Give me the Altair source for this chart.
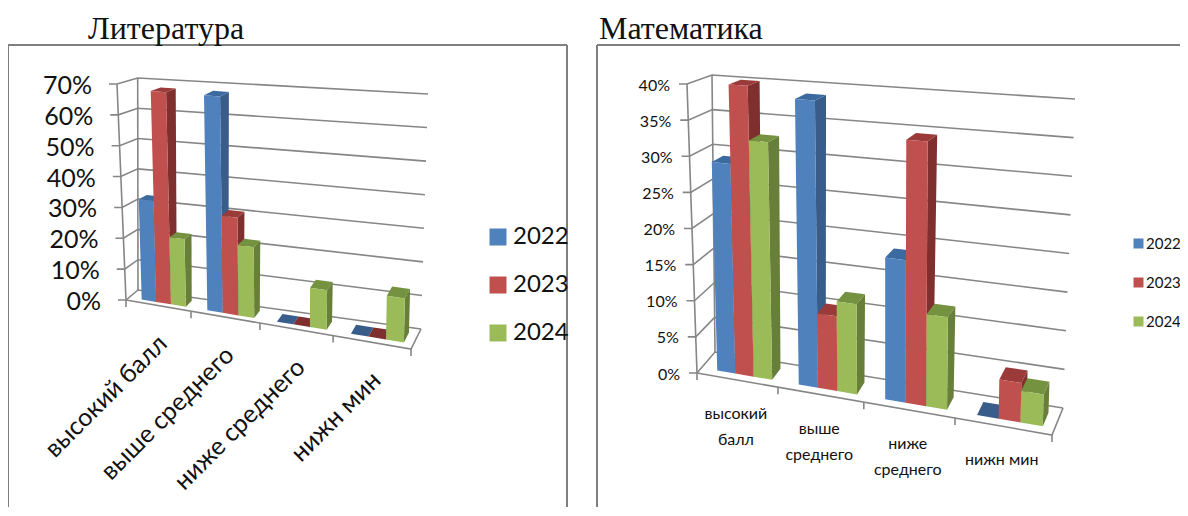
import altair as alt
import pandas as pd

YEARS = ["2022", "2023", "2024"]
CATS_L = ["высокий балл", "выше среднего", "ниже среднего", "нижн мин"]
CATS_M = [["высокий", "балл"], ["выше", "среднего"], ["ниже", "среднего"], ["нижн мин"]]
LIT_2022 = [32.5, 68, 0, 0]
LIT_2023 = [68, 30.5, 0, 0]
LIT_2024 = [21.5, 22, 12, 13]
MAT_2022 = [29, 38.7, 18.7, 0]
MAT_2023 = [40, 10, 34.5, 5]
MAT_2024 = [32.5, 12, 12, 4]
TICKS_L = [0, 10, 20, 30, 40, 50, 60, 70]
TICKS_M = [0, 5, 10, 15, 20, 25, 30, 35, 40]

FRONT = ["#4f81bd", "#c0504d", "#9bbb59"]
SIDE = ["#385d8a", "#7f2f2d", "#687f3a"]
TOP = ["#3b6aa0", "#9a3b39", "#74923f"]
GRID = "#868686"
FRAME = "#7f7f7f"
INK = "#111111"

W = 1172
H = 499
K = 1.128
X_ENC = alt.X("x:Q", axis=None, scale=alt.Scale(domain=[0, W], range=[0, W], nice=False, zero=False))


def panel(corners, vmax, ticks, series, tick_gap, tick_size, tick_dy, legend, frame_x, title, title_x, cat_rows):
    ppp = (corners["fbl"][1] - corners["ftl"][1]) / vmax
    y_enc = alt.Y("y:Q", axis=None, scale=alt.Scale(domain=[0, H / ppp], nice=False, zero=False))

    def data_xy(px, py):
        return px - 8, (H - (py - 8)) / ppp

    def proj(u, v, w):
        t = u / (u + K * (1 - u)) if u > 0 else 0.0
        def lerp(a, b, f):
            return (a[0] + (b[0] - a[0]) * f, a[1] + (b[1] - a[1]) * f)
        bot = lerp(lerp(corners["fbl"], corners["fbr"], t), lerp(corners["bbl"], corners["bbr"], t), v)
        top = lerp(lerp(corners["ftl"], corners["ftr"], t), lerp(corners["btl"], corners["btr"], t), v)
        p = lerp(bot, top, w)
        return data_xy(p[0], p[1])

    rows = []
    n = 0
    for c in range(4):
        for s in range(3):
            val = series[s][c] / vmax
            u0 = (c + 0.2 + s * 0.2267) / 4
            u1 = u0 + 0.2267 / 4
            faces = [
                (SIDE[s], [(u1, .25, 0), (u1, .75, 0), (u1, .75, val), (u1, .25, val)]),
                (TOP[s] if val > 0 else SIDE[s], [(u0, .25, val), (u1, .25, val), (u1, .75, val), (u0, .75, val)]),
                (FRONT[s], [(u0, .25, 0), (u1, .25, 0), (u1, .25, val), (u0, .25, val)]),
            ]
            for col, pts in faces:
                n += 1
                for i, p in enumerate(pts):
                    x, y = proj(*p)
                    rows.append(dict(k=f"{n:03d}", o=i, x=x, y=y, c=col))
    bars = pd.DataFrame(rows)

    lines = []
    ln = 0
    def add(pts):
        nonlocal ln
        ln += 1
        for i, p in enumerate(pts):
            lines.append(dict(k=f"{ln:03d}", o=i, x=p[0], y=p[1]))

    for tv in ticks:
        w = tv / vmax
        fx, fy = proj(0, 0, w)
        add([(fx - 8, fy), (fx, fy), proj(0, 1, w), proj(1, 1, w)])
    add([proj(0, 0, 0), proj(0, 0, 1)])
    add([proj(0, 1, 0), proj(0, 1, 1)])
    add([proj(0, 0, 0), proj(1, 0, 0), proj(1, 1, 0)])
    for c in range(5):
        fx, fy = proj(c / 4, 0, 0)
        add([(fx, fy), (fx, fy - 7 / ppp)])
    gl = pd.DataFrame(lines)

    grid = alt.Chart(gl).mark_line(color=GRID, strokeWidth=1.6).encode(
        x=X_ENC, y=y_enc, detail="k:N", order="o:Q")
    bar = alt.Chart(bars).mark_line(filled=True, strokeWidth=0).encode(
        x=X_ENC, y=y_enc, detail="k:N", order="o:Q", fill=alt.Fill("c:N", scale=None))

    tk = pd.DataFrame([
        dict(x=proj(0, 0, t / vmax)[0] - tick_gap, y=proj(0, 0, t / vmax)[1], t=f"{t}%") for t in ticks])
    tick_text = alt.Chart(tk).mark_text(align="right", baseline="middle", font="Lato", dy=tick_dy,
                                        fontSize=tick_size, color=INK).encode(x=X_ENC, y=y_enc, text="t:N")

    leg_df = pd.DataFrame(dict(year=YEARS, x=[0, 0, 0], y=[0, 0, 0]))
    leg = alt.Chart(leg_df).mark_square(size=0).encode(
        x=X_ENC, y=y_enc,
        color=alt.Color("year:N", scale=alt.Scale(domain=YEARS, range=FRONT), legend=alt.Legend(**legend)))

    one = leg_df.head(1)
    frame = [alt.Chart(one).mark_rule(color=FRAME, strokeWidth=2).encode(
        x=alt.value(frame_x[0]), x2=alt.value(frame_x[1]), y=alt.value(37))]
    for fx in frame_x:
        if fx < W:
            frame.append(alt.Chart(one).mark_rule(color=FRAME, strokeWidth=2).encode(
                x=alt.value(fx), y=alt.value(37), y2=alt.value(H)))

    ttl = alt.Chart(pd.DataFrame(dict(t=[title]))).mark_text(
        align="left", baseline="alphabetic", font="Liberation Serif", fontSize=32, color=INK).encode(
        x=alt.value(title_x), y=alt.value(31), text="t:N")

    cats = cat_rows(proj, ppp, y_enc)
    return alt.layer(grid, bar, tick_text, leg, *frame, ttl, cats)


def cats_left(proj, ppp, y_enc):
    ends = []
    for c, name in enumerate(CATS_L):
        fx, fy = proj((c + .5) / 4, 0, 0)
        ends.append(dict(x=fx + 5, y=fy - 34 / ppp, t=name))
    return alt.Chart(pd.DataFrame(ends)).mark_text(align="right", baseline="middle", angle=315, font="Lato",
                                                   fontSize=25, color=INK).encode(x=X_ENC, y=y_enc, text="t:N")


def cats_right(proj, ppp, y_enc):
    rows = []
    for c, lines_ in enumerate(CATS_M):
        fx, fy = proj((c + .5) / 4, 0, 0)
        for i, line in enumerate(lines_):
            rows.append(dict(x=fx - 1, y=fy - (34 + 26 * i) / ppp, t=line))
    return alt.Chart(pd.DataFrame(rows)).mark_text(align="center", baseline="middle", font="Lato",
                                                   fontSize=16, color=INK).encode(x=X_ENC, y=y_enc, text="t:N")


C_L = dict(fbl=(126, 300), fbr=(411, 349), bbl=(138, 290), bbr=(421, 329),
           ftl=(117, 84), ftr=(416, 110), btl=(137.7, 78), btr=(428, 94))
leg_l = dict(orient="none", legendX=478, legendY=217, title=None, symbolType="square", symbolSize=289,
             symbolOpacity=1, labelFont="Lato", labelFontSize=24, labelColor=INK, rowPadding=24,
             symbolStrokeWidth=0, labelOffset=3)
left = panel(C_L, 70, TICKS_L, [LIT_2022, LIT_2023, LIT_2024], 25, 25, 2, leg_l, (0, 559),
             "Литература", 80, cats_left)

C_M = dict(fbl=(697, 373), fbr=(1052, 435), bbl=(715, 352), bbr=(1063, 408),
           ftl=(687, 84), ftr=(1058, 113), btl=(712, 75), btr=(1075, 99))
leg_m = dict(orient="none", legendX=1123, legendY=228, title=None, symbolType="square", symbolSize=100,
             symbolOpacity=1, labelFont="Lato", labelFontSize=15, labelColor=INK, rowPadding=23,
             symbolStrokeWidth=0, labelOffset=0)
right = panel(C_M, 40, TICKS_M, [MAT_2022, MAT_2023, MAT_2024], 17, 16, 1.5, leg_m, (589, W),
              "Математика", 591, cats_right)

chart = alt.layer(left, right).resolve_scale(y="independent", color="independent").resolve_legend(
    color="independent").properties(
    width=W, height=H, padding=0, autosize=alt.AutoSizeParams(type="none")).configure_view(stroke=None)
chart.save("out.html", embed_options={"renderer": "svg", "actions": False})
